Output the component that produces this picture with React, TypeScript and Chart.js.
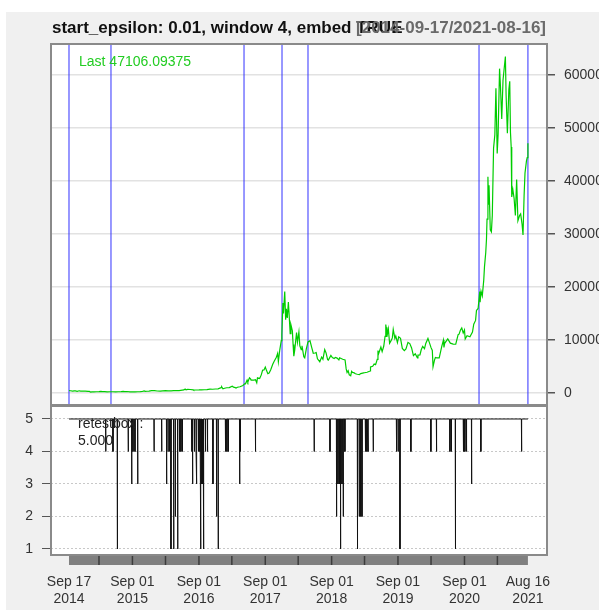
import React, { useEffect, useRef } from 'react';
import { Chart, registerables } from 'chart.js';
Chart.register(...registerables);

const FONT = '"Liberation Sans", Arial, Helvetica, sans-serif';

const TITLE = 'start_epsilon: 0.01, window 4, embed TRUE';
const RANGE_TEXT = '[2014-09-17/2021-08-16]';
const LAST_TEXT = 'Last 47106.09375';
const RETEST_TEXT = 'retestbox :';
const RETEST_LAST = '5.000';
const START_DATE = '2014-09-17';

const priceDates = [
  '2014-09-17','2014-09-24','2014-10-01','2014-10-08','2014-10-15','2014-10-22','2014-11-01','2014-11-12','2014-11-20','2014-12-01','2014-12-15','2014-12-31',
  '2015-01-07','2015-01-14','2015-01-21','2015-02-01','2015-02-15','2015-03-01','2015-03-11','2015-03-21','2015-04-01','2015-04-15','2015-05-01','2015-05-15','2015-06-01','2015-06-15','2015-07-01','2015-07-12','2015-07-21','2015-08-01','2015-08-19','2015-09-01','2015-09-15','2015-10-01','2015-10-15','2015-10-25','2015-11-04','2015-11-11','2015-11-20','2015-12-01','2015-12-15','2015-12-20',
  '2016-01-01','2016-01-15','2016-02-01','2016-02-15','2016-03-01','2016-03-15','2016-04-01','2016-04-15','2016-05-01','2016-05-15','2016-06-01','2016-06-10','2016-06-17','2016-06-22','2016-07-01','2016-07-15','2016-08-01','2016-08-03','2016-08-15','2016-09-01','2016-09-15','2016-10-01','2016-10-15','2016-11-01','2016-11-15','2016-12-01','2016-12-15',
  '2017-01-01','2017-01-04','2017-01-11','2017-01-20','2017-02-01','2017-02-15','2017-03-03','2017-03-10','2017-03-17','2017-03-24','2017-04-01','2017-04-15','2017-05-01','2017-05-10','2017-05-15','2017-05-24','2017-05-28','2017-06-06','2017-06-12','2017-06-15','2017-07-01','2017-07-09','2017-07-16','2017-07-20','2017-08-01','2017-08-10','2017-08-17','2017-08-25','2017-09-01','2017-09-08','2017-09-15','2017-09-22','2017-10-01','2017-10-12','2017-10-20','2017-11-01','2017-11-08','2017-11-12','2017-11-20','2017-11-28','2017-12-01','2017-12-07','2017-12-10','2017-12-17','2017-12-22','2017-12-26','2017-12-31',
  '2018-01-06','2018-01-10','2018-01-16','2018-01-20','2018-01-28','2018-02-01','2018-02-05','2018-02-10','2018-02-20','2018-02-25','2018-03-05','2018-03-10','2018-03-18','2018-03-22','2018-04-01','2018-04-06','2018-04-15','2018-04-24','2018-05-05','2018-05-15','2018-05-23','2018-06-01','2018-06-08','2018-06-15','2018-06-28','2018-07-08','2018-07-15','2018-07-25','2018-08-01','2018-08-10','2018-08-14','2018-08-28','2018-09-05','2018-09-15','2018-09-22','2018-10-01','2018-10-11','2018-10-15','2018-11-01','2018-11-14','2018-11-20','2018-11-25','2018-12-01','2018-12-07','2018-12-15','2018-12-20','2018-12-25',
  '2019-01-01','2019-01-10','2019-01-20','2019-02-01','2019-02-08','2019-02-24','2019-03-01','2019-03-15','2019-04-01','2019-04-03','2019-04-15','2019-04-23','2019-05-01','2019-05-10','2019-05-14','2019-05-17','2019-05-30','2019-06-06','2019-06-15','2019-06-22','2019-06-26','2019-06-28','2019-07-02','2019-07-10','2019-07-17','2019-07-25','2019-08-01','2019-08-06','2019-08-15','2019-08-20','2019-08-29','2019-09-05','2019-09-15','2019-09-25','2019-10-06','2019-10-15','2019-10-26','2019-11-05','2019-11-15','2019-11-25','2019-12-05','2019-12-17','2019-12-20','2019-12-31',
  '2020-01-07','2020-01-15','2020-01-25','2020-02-01','2020-02-13','2020-02-20','2020-03-01','2020-03-08','2020-03-12','2020-03-20','2020-03-25','2020-04-01','2020-04-15','2020-04-29','2020-05-08','2020-05-11','2020-05-15','2020-06-01','2020-06-15','2020-07-01','2020-07-15','2020-07-28','2020-08-02','2020-08-10','2020-08-17','2020-08-25','2020-09-01','2020-09-05','2020-09-15','2020-10-01','2020-10-15','2020-10-22','2020-11-01','2020-11-06','2020-11-15','2020-11-24','2020-11-26','2020-12-01','2020-12-08','2020-12-16','2020-12-20','2020-12-27','2020-12-31',
  '2021-01-03','2021-01-08','2021-01-11','2021-01-14','2021-01-21','2021-01-27','2021-02-01','2021-02-08','2021-02-15','2021-02-21','2021-02-28','2021-03-05','2021-03-13','2021-03-18','2021-03-25','2021-04-01','2021-04-14','2021-04-18','2021-04-25','2021-05-03','2021-05-08','2021-05-12','2021-05-16','2021-05-19','2021-05-25','2021-06-01','2021-06-08','2021-06-15','2021-06-22','2021-07-01','2021-07-07','2021-07-15','2021-07-20','2021-07-26','2021-07-31','2021-08-08','2021-08-12','2021-08-16'
];

const priceValues = [
  457,423,384,352,395,383,325,423,357,379,347,320,
  294,178,228,227,234,260,296,262,247,220,232,237,223,236,258,310,278,281,227,228,230,237,254,285,403,310,326,362,444,442,
  434,375,371,400,432,416,416,430,448,457,536,577,764,596,676,664,606,547,567,572,607,613,638,729,711,753,779,
  998,1154,777,895,989,1010,1285,1115,1060,938,1089,1184,1421,1740,1725,2420,2070,2870,2660,2440,2434,2500,1930,2870,2718,3420,4290,4350,4892,4230,3637,3780,4403,5430,5990,6737,7460,5950,8200,9900,10975,17000,15000,19140,13830,15900,14156,
  17170,14900,11180,12900,11750,9170,6950,8080,11400,9600,11500,8900,8200,8900,6830,6630,8360,9650,9860,8500,7500,7540,7630,6460,5900,6780,6350,8200,7600,6300,6200,7100,6700,6520,6720,6590,6250,6650,6370,6250,4550,3880,4200,3420,3240,4080,3880,
  3840,3630,3540,3490,3660,3800,3820,3920,4150,4900,5040,5460,5350,6340,8000,7360,8660,7800,8860,10700,12930,12400,10600,12100,9400,9880,10400,11980,10300,10760,9500,10600,10300,8400,7990,8300,9550,9320,8500,7050,7400,6630,7150,7200,
  8160,8800,8380,9350,10300,9600,8560,8040,4970,6200,6700,6640,6640,8800,9990,8600,9380,10200,9400,9230,9200,11000,11100,11880,12260,11320,11900,10200,10800,10600,11500,12990,13700,15580,15950,19160,17150,19200,18320,21300,23800,26500,29000,
  32800,40800,35500,39200,30800,30400,33500,46200,48700,57500,45200,48800,61200,57800,51700,59000,63500,56200,49000,57200,58800,49200,46400,37000,38400,36700,33500,40300,32500,33500,33800,31800,29800,37200,41500,43800,44400,47106.09375
];

const breakDates = ['2014-09-17','2015-05-06','2017-05-07','2017-12-02','2018-04-24','2020-11-20','2021-08-16'];

const retestDays = [
  202,242,266,326,345,352,363,378,
  468,510,537,545,553,561,576,585,598,
  608,616,624,675,680,690,699,703,712,720,
  725,731,737,741,751,762,792,812,821,
  861,869,877,939,943,1026,1349,1436,
  1472,1480,1488,1494,1502,1509,1518,
  1587,1597,1604,1612,1631,1639,1646,1674,
  1802,1811,1821,1881,1991,2022,
  2096,2104,2126,2170,2178,2187,2215,2266,2490
];
const retestValues = [
  4,4,1,4,3,4,4,3,
  4,4,3,4,4,1,1,2,1,
  4,4,4,4,3,4,4,3,4,4,
  1,3,3,1,4,4,3,2,1,
  4,4,4,3,4,4,4,4,
  2,3,3,1,3,2,4,
  1,2,2,2,4,4,4,4,
  4,4,1,4,4,4,
  4,4,1,4,4,4,3,4,4
];
const RETEST_BASE = 5;
const END_DAY_DATE = '2021-08-16';

const priceTicks = [0, 10000, 20000, 30000, 40000, 50000, 60000];
const retestTicks = [1, 2, 3, 4, 5];

const xTickDates = ['2014-09-17','2015-09-01','2016-09-01','2017-09-01','2018-09-01','2019-09-01','2020-09-01','2021-08-16'];
const xTickLabels = [
  ['Sep 17','2014'],['Sep 01','2015'],['Sep 01','2016'],['Sep 01','2017'],
  ['Sep 01','2018'],['Sep 01','2019'],['Sep 01','2020'],['Aug 16','2021']
];
const xSepDates = ['2015-03-01','2015-09-01','2016-03-01','2016-09-01','2017-03-01','2017-09-01','2018-03-01','2018-09-01','2019-03-01','2019-09-01','2020-03-01','2020-09-01','2021-03-01'];

function dayOf(s: string): number {
  const [y, m, d] = s.split('-').map(Number);
  const [y0, m0, d0] = START_DATE.split('-').map(Number);
  return Math.round((Date.UTC(y, m - 1, d) - Date.UTC(y0, m0 - 1, d0)) / 86400000);
}

const X_MIN = -99;
const X_MAX = 2630;
const BORDER = '#8a8a8a';

export default function App() {
  const topRef = useRef<HTMLCanvasElement>(null);
  const botRef = useRef<HTMLCanvasElement>(null);

  useEffect(() => {
    const pricePts = priceDates.map((d, i) => ({ x: dayOf(d), y: priceValues[i] }));
    const endDay = dayOf(END_DAY_DATE);
    const retestPts: { x: number; y: number }[] = [{ x: 0, y: RETEST_BASE }];
    retestDays.forEach((d, i) => {
      retestPts.push({ x: d - 1, y: RETEST_BASE }, { x: d, y: retestValues[i] }, { x: d + 1, y: RETEST_BASE });
    });
    retestPts.push({ x: endDay, y: RETEST_BASE });

    const topPlugin = {
      id: 'topPanel',
      beforeDraw(chart: any) {
        const { ctx, chartArea: a } = chart;
        ctx.save();
        ctx.fillStyle = '#ffffff';
        ctx.fillRect(a.left, a.top, a.right - a.left, a.bottom - a.top);
        ctx.restore();
      },
      beforeDatasetsDraw(chart: any) {
        const { ctx, chartArea: a, scales } = chart;
        ctx.save();
        ctx.strokeStyle = 'rgba(40,40,255,0.8)';
        ctx.lineWidth = 1.2;
        breakDates.forEach((d) => {
          const px = scales.x.getPixelForValue(dayOf(d));
          ctx.beginPath();
          ctx.moveTo(px, a.top);
          ctx.lineTo(px, a.bottom);
          ctx.stroke();
        });
        ctx.restore();
      },
      afterDraw(chart: any) {
        const { ctx, chartArea: a } = chart;
        ctx.save();
        ctx.strokeStyle = BORDER;
        ctx.lineWidth = 2;
        ctx.strokeRect(a.left, a.top, a.right - a.left, a.bottom - a.top);
        ctx.fillStyle = '#22cc22';
        ctx.font = '14px ' + FONT;
        ctx.textBaseline = 'middle';
        ctx.textAlign = 'left';
        ctx.fillText(LAST_TEXT, 79, 62);
        ctx.restore();
      }
    };

    const botPlugin = {
      id: 'botPanel',
      beforeDraw(chart: any) {
        const { ctx, chartArea: a } = chart;
        ctx.save();
        ctx.fillStyle = '#ffffff';
        ctx.fillRect(a.left, a.top, a.right - a.left, a.bottom - a.top);
        ctx.restore();
      },
      afterDraw(chart: any) {
        const { ctx, chartArea: a, scales } = chart;
        ctx.save();
        ctx.strokeStyle = BORDER;
        ctx.lineWidth = 2;
        ctx.strokeRect(a.left, a.top, a.right - a.left, a.bottom - a.top);
        // x-axis bar
        const x0 = scales.x.getPixelForValue(0);
        const x1 = scales.x.getPixelForValue(endDay);
        ctx.fillStyle = '#808080';
        ctx.fillRect(x0, a.bottom + 1, x1 - x0, 9);
        ctx.strokeStyle = '#3c3c3c';
        ctx.lineWidth = 1.5;
        xSepDates.forEach((d) => {
          const px = scales.x.getPixelForValue(dayOf(d));
          ctx.beginPath();
          ctx.moveTo(px, a.bottom + 1);
          ctx.lineTo(px, a.bottom + 10);
          ctx.stroke();
        });
        ctx.fillStyle = '#222';
        ctx.font = '14px ' + FONT;
        ctx.textBaseline = 'middle';
        ctx.textAlign = 'left';
        ctx.fillText(RETEST_TEXT, 78, 424);
        ctx.fillText(RETEST_LAST, 78, 441);
        ctx.restore();
      }
    };

    const tickFont = { size: 14, family: FONT };

    const top = new Chart(topRef.current as HTMLCanvasElement, {
      type: 'line',
      data: {
        datasets: [{
          data: pricePts,
          borderColor: '#00cd00',
          borderWidth: 1.2,
          pointRadius: 0,
          tension: 0,
          fill: false
        }]
      },
      options: {
        animation: false,
        responsive: false,
        events: [],
        layout: { padding: { left: 51, top: 44, right: 0, bottom: 208 } },
        plugins: { legend: { display: false }, tooltip: { enabled: false }, title: { display: false } },
        scales: {
          x: { type: 'linear', display: false, min: X_MIN, max: X_MAX },
          y: {
            type: 'linear',
            position: 'right',
            min: -2264,
            max: 65849,
            afterBuildTicks: (s: any) => { s.ticks = priceTicks.map((v) => ({ value: v })); },
            afterFit: (s: any) => { s.width = 56; },
            ticks: { font: tickFont, color: '#333', padding: 9, callback: (v: any) => String(v) },
            grid: { color: '#e2e2e2', lineWidth: 1.5, tickColor: '#555', tickLength: 8, drawTicks: true },
            border: { display: false }
          }
        }
      } as any,
      plugins: [topPlugin]
    });

    const bot = new Chart(botRef.current as HTMLCanvasElement, {
      type: 'line',
      data: {
        datasets: [{
          data: retestPts,
          borderColor: '#111111',
          borderWidth: 1,
          pointRadius: 0,
          tension: 0,
          fill: false
        }]
      },
      options: {
        animation: false,
        responsive: false,
        events: [],
        layout: { padding: { left: 0, top: 406, right: 56, bottom: 0 } },
        plugins: { legend: { display: false }, tooltip: { enabled: false }, title: { display: false } },
        scales: {
          x: {
            type: 'linear',
            position: 'bottom',
            min: X_MIN,
            max: X_MAX,
            afterBuildTicks: (s: any) => { s.ticks = xTickDates.map((d) => ({ value: dayOf(d) })); },
            afterFit: (s: any) => { s.height = 58; },
            ticks: {
              autoSkip: false, maxRotation: 0, minRotation: 0, padding: 18,
              font: { size: 14, family: FONT, lineHeight: 1.25 }, color: '#333',
              callback: (_v: any, i: number) => xTickLabels[i]
            },
            grid: { display: false, drawTicks: false, tickLength: 0 },
            border: { display: false }
          },
          y: {
            type: 'linear',
            position: 'left',
            min: 0.815,
            max: 5.4,
            afterBuildTicks: (s: any) => { s.ticks = retestTicks.map((v) => ({ value: v })); },
            afterFit: (s: any) => { s.width = 51; },
            ticks: { font: tickFont, color: '#333', padding: 9, callback: (v: any) => String(v) },
            grid: { color: '#c8c8c8', lineWidth: 1, tickColor: '#555', tickLength: 9, drawTicks: true },
            border: { display: false, dash: [2, 2] }
          }
        }
      } as any,
      plugins: [botPlugin]
    });

    return () => { top.destroy(); bot.destroy(); };
  }, []);

  const layer: React.CSSProperties = { position: 'absolute', left: -6, top: -12, width: 603, height: 613 };
  return (
    <div style={{ position: 'absolute', left: 0, top: 0, width: 603, height: 613, background: '#ffffff' }}>
      <div style={{ position: 'absolute', left: 6, top: 12, width: 593, height: 598, background: '#f0f0f0', overflow: 'hidden' }}>
        <div style={layer}><canvas ref={topRef} width={603} height={613} /></div>
        <div style={layer}><canvas ref={botRef} width={603} height={613} /></div>
        <div style={{ position: 'absolute', left: 46, top: 6, fontFamily: FONT, fontWeight: 'bold', fontSize: 17, lineHeight: '20px', color: '#111', whiteSpace: 'nowrap' }}>{TITLE}</div>
        <div style={{ position: 'absolute', left: 0, width: 540, top: 6, textAlign: 'right', fontFamily: FONT, fontWeight: 'bold', fontSize: 17, lineHeight: '20px', color: '#6a6a6a', whiteSpace: 'nowrap' }}>{RANGE_TEXT}</div>
      </div>
    </div>
  );
}
